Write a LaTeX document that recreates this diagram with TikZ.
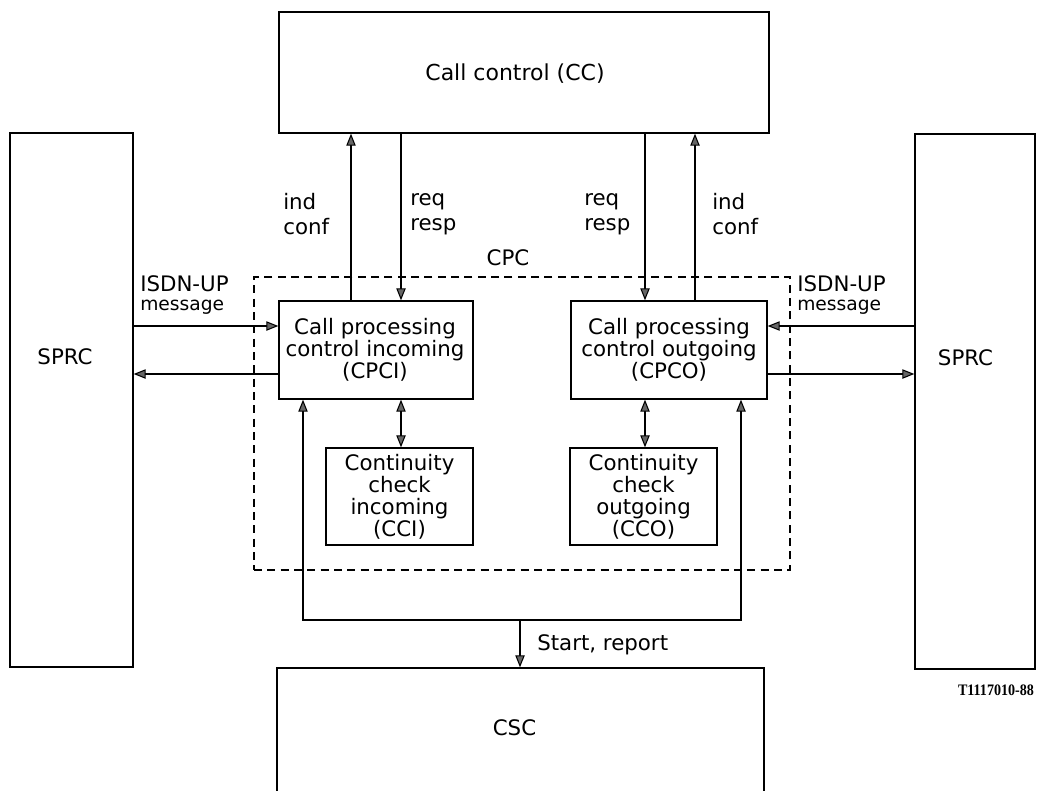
\documentclass[tikz,border=0pt]{standalone}
\usepackage{fontspec}
\setmainfont{DejaVu Sans}
\newfontfamily\codefont{Liberation Serif}
\usetikzlibrary{arrows.meta}
\tikzset{
  box/.style={draw, line width=1pt, inner sep=0pt},
  lbl/.style={inner sep=0pt, font=\fontsize{16}{16.5}\selectfont, align=center},
  side/.style={inner sep=0pt, font=\fontsize{16}{19}\selectfont, align=left, anchor=west},
  conn/.style={line width=0.9pt},
  cpcbox/.style={draw, dash pattern=on 6pt off 4pt, line width=0.9pt, inner sep=0pt}
}
\begin{document}
\begin{tikzpicture}[x=0.75pt,y=-0.75pt,>={Triangle[length=9pt,width=7pt,fill=black!60,line width=0.8pt]}]
\clip (0,0) rectangle (1037,790);
\fill[white] (0,0) rectangle (1037,790);
% boxes
\node[box, minimum width=490*0.75pt, minimum height=121*0.75pt] (cc) at (524,72.5) {};
\node[box, minimum width=123*0.75pt, minimum height=534*0.75pt] (sprcl) at (71.5,400) {};
\node[box, minimum width=120*0.75pt, minimum height=535*0.75pt] (sprcr) at (975,401.5) {};
\node[cpcbox, minimum width=536*0.75pt, minimum height=293*0.75pt] (cpc) at (522,423.5) {};
\node[box, minimum width=194*0.75pt, minimum height=98*0.75pt] (cpci) at (376,350) {};
\node[box, minimum width=196*0.75pt, minimum height=98*0.75pt] (cpco) at (669,350) {};
\node[box, minimum width=147*0.75pt, minimum height=97*0.75pt] (cci) at (399.5,496.5) {};
\node[box, minimum width=147*0.75pt, minimum height=97*0.75pt] (cco) at (643.5,496.5) {};
\node[box, minimum width=487*0.75pt, minimum height=124*0.75pt] (csc) at (520.5,730) {};
% texts
\node[lbl, font=\fontsize{16.5}{17}\selectfont] (tcc) at (515,74) {Call control (CC)};
\node[lbl] (tsprcl) at (65,357) {SPRC};
\node[lbl] (tsprcr) at (965.5,358) {SPRC};
\node[lbl] (tcpci) at (375,350) {Call processing\\control incoming\\(CPCI)};
\node[lbl] (tcpco) at (669,350) {Call processing\\control outgoing\\(CPCO)};
\node[lbl] (tcci) at (399.5,497) {Continuity\\check\\incoming\\(CCI)};
\node[lbl] (tcco) at (643.5,497) {Continuity\\check\\outgoing\\(CCO)};
\node[lbl] (tcsc) at (514.5,728) {CSC};
\node[lbl] (tcpc) at (508,258) {CPC};
\node[side] (l1) at (283,214) {ind\\conf};
\node[side] (l2) at (410,214) {req\\resp};
\node[side] (l3) at (584,214) {req\\resp};
\node[side] (l4) at (712,214) {ind\\conf};
\node[side, font=\fontsize{16}{16}\selectfont] (isl) at (140,295) {ISDN-UP\\[-2pt]{\fontsize{14}{14}\selectfont message}};
\node[side, font=\fontsize{16}{16}\selectfont] (isr) at (797,295) {ISDN-UP\\[-2pt]{\fontsize{14}{14}\selectfont message}};
\node[side] (sr) at (537,645) {Start, report};
\node[inner sep=0pt, font=\codefont\bfseries\fontsize{12}{12}\selectfont, xscale=0.88] (code) at (996,690) {T1117010-88};
% column / row coordinates
\coordinate (xa) at (351,0);
\coordinate (xb) at (401,0);
\coordinate (xc) at (645,0);
\coordinate (xd) at (695,0);
\coordinate (xe) at (303,0);
\coordinate (xf) at (741,0);
\coordinate (xm) at (520,0);
\coordinate (y1) at (0,326);
\coordinate (y2) at (0,374);
\coordinate (yl) at (0,620);
% CC connections
\draw[conn,->] (cpci.north -| xa) -- (cc.south -| xa);
\draw[conn,->] (cc.south -| xb) -- (cpci.north -| xb);
\draw[conn,->] (cc.south -| xc) -- (cpco.north -| xc);
\draw[conn,->] (cpco.north -| xd) -- (cc.south -| xd);
% SPRC connections
\draw[conn,->] (sprcl.east |- y1) -- (cpci.west |- y1);
\draw[conn,->] (cpci.west |- y2) -- (sprcl.east |- y2);
\draw[conn,->] (sprcr.west |- y1) -- (cpco.east |- y1);
\draw[conn,->] (cpco.east |- y2) -- (sprcr.west |- y2);
% continuity check
\draw[conn,<->] (cpci.south -| xb) -- (cci.north -| xb);
\draw[conn,<->] (cpco.south -| xc) -- (cco.north -| xc);
% loop to CSC
\draw[conn,<->] (cpci.south -| xe) -- (xe |- yl) -- (xf |- yl) -- (cpco.south -| xf);
\draw[conn,->] (xm |- yl) -- (csc.north -| xm);
\end{tikzpicture}
\end{document}
